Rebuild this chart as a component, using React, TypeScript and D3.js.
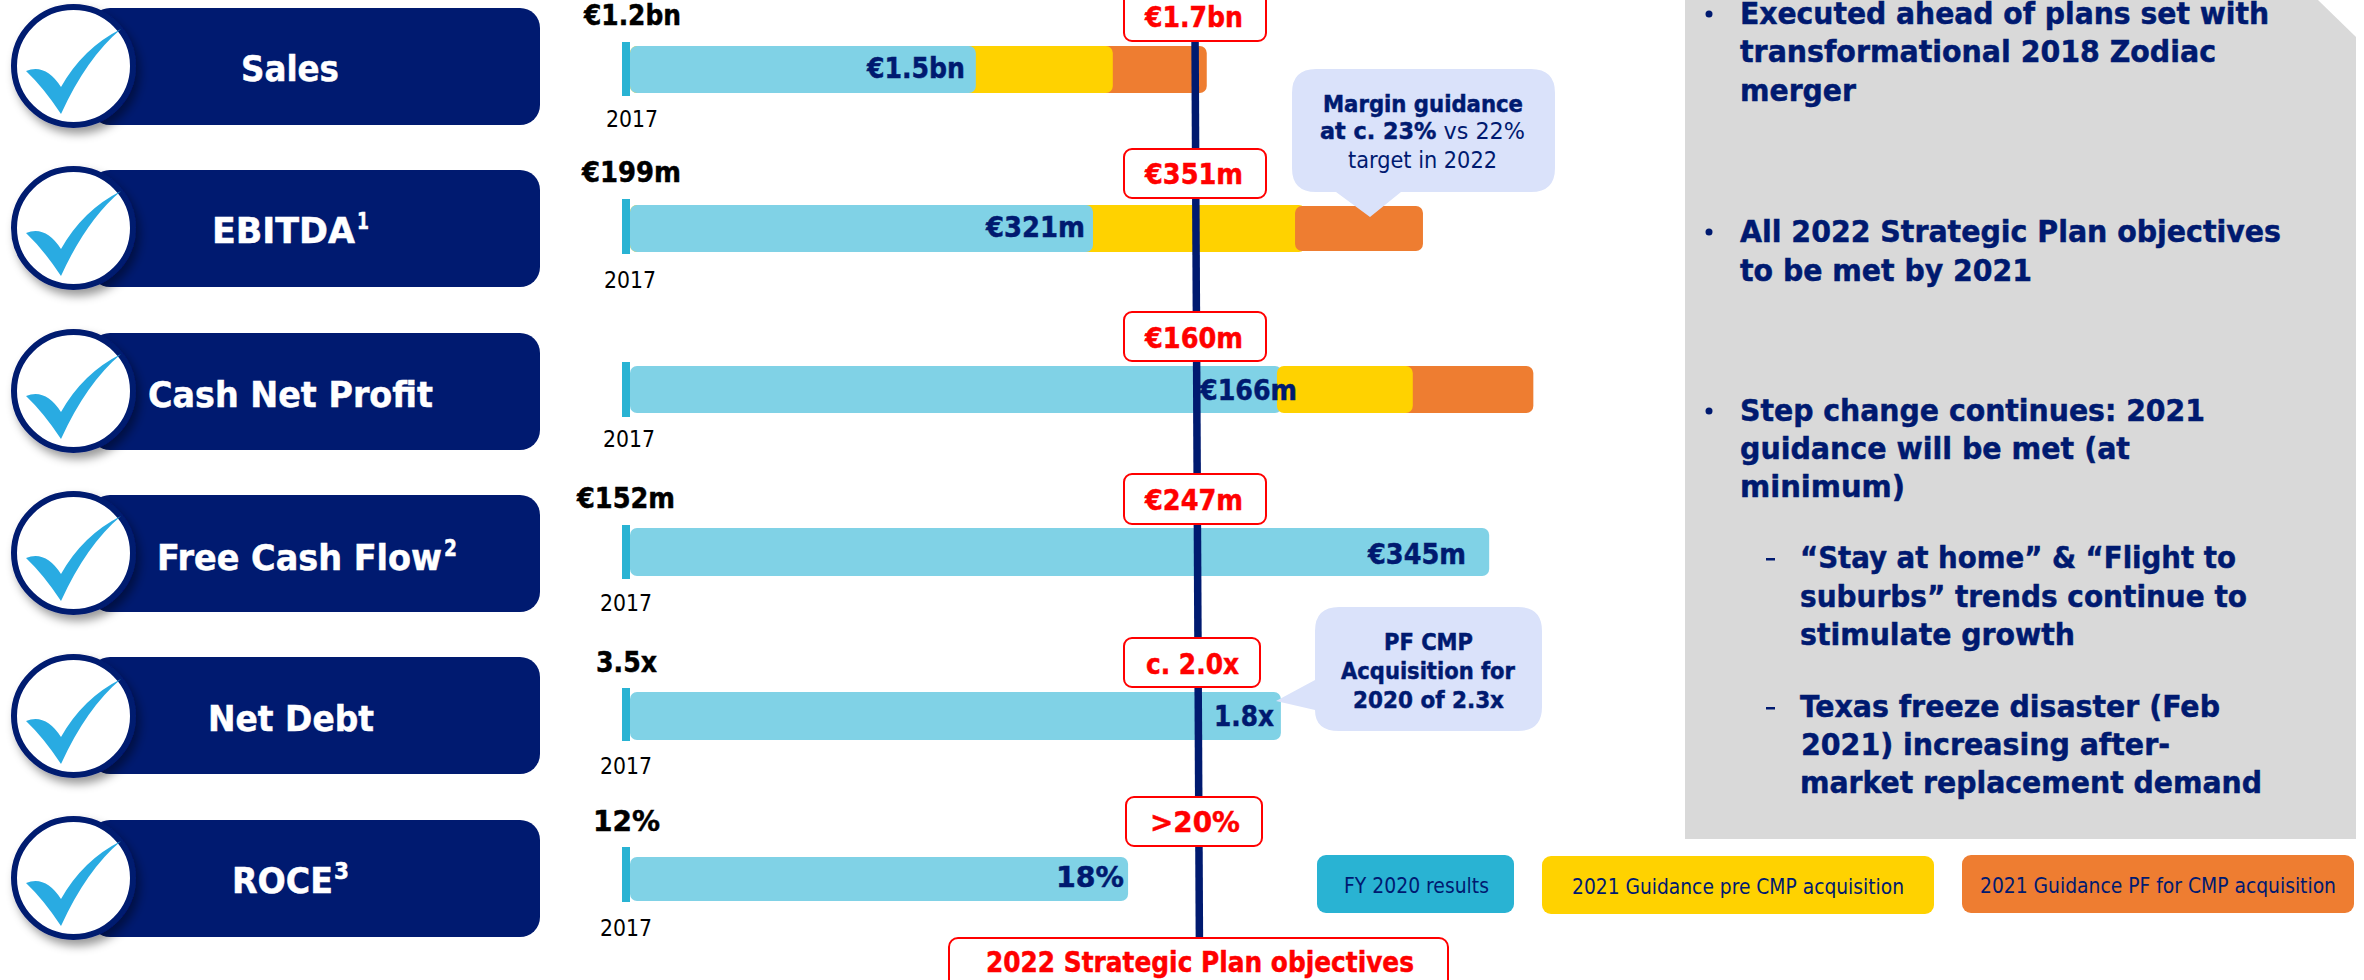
import React from "react";
import * as d3 from "d3";

// ---- Data ----
const categories = ["Sales", "EBITDA", "Cash Net Profit", "Free Cash Flow", "Net Debt", "ROCE"];
const footnotes = ["", "1", "", "2", "", "3"];
const start2017 = ["€1.2bn", "€199m", "", "€152m", "3.5x", "12%"];
const targets2022 = ["€1.7bn", "€351m", "€160m", "€247m", "c. 2.0x", ">20%"];
const results2020 = ["€1.5bn", "€321m", "€166m", "€345m", "1.8x", "18%"];
// Bar ends, as an index where the 2022 objective line = 100
const fy2020 = [61.1, 81.8, 115.2, 151.8, 115, 88];
const guidancePre = [85.3, 119.4, 138.3, null, null, null];
const guidancePF = [101.9, 140.1, 159.6, null, null, null];
const preOverlayStart = [null, null, 114.3, null, null, null];
const pfStart = [80, 117.5, 130, null, null, null];
const pfOnTop = [false, true, false, false, false, false];
const legendLabels = ["FY 2020 results", "2021 Guidance pre CMP acquisition", "2021 Guidance PF for CMP acquisition"];

// ---- Layout ----
const NAVY = "#001A70";
const BAR = "#80D2E6";
const TICK = "#29B3D3";
const YEL = "#FFD200";
const ORG = "#EE7D31";
const RED = "#FF0000";
const LAV = "#DAE2FA";
const FONT = "'DejaVu Sans Condensed','DejaVu Sans',Verdana,sans-serif";

const x = d3.scaleLinear().domain([0, 100]).range([630, 1196]);

const pillTop = [8, 170, 333, 495, 657, 820];
const pillH = 117;
const circleCy = [66, 228, 391, 553, 716, 878];
const pillText = [[241, 98, 81], [212, 143, 243], [148, 285, 407], [157, 285, 570], [208, 166, 731], [232, 101, 893]];
const supText = [null, [357, 12, 229], null, [444, 13, 556], null, [334, 15, 879]];
const barTop = [46, 205, 366, 528, 692, 857];
const barH = [47, 47, 47, 48, 48, 44];
const tickTop = [42, 199, 362, 525, 688, 847];
const tickH = [54, 55, 55, 54, 53, 55];
const yearPos = [[606, 127], [604, 288], [603, 447], [600, 611], [600, 774], [600, 936]];
const startPos = [[584, 97, 25], [582, 99, 182], [0, 0, 0], [577, 98, 508], [596, 61, 672], [593, 67, 831]];
const boxes = [
  [1124, 1266, -12, 41], [1124, 1266, 149, 198], [1124, 1266, 312, 361],
  [1124, 1266, 474, 524], [1124, 1260, 638, 687], [1126, 1262, 797, 846],
];
const boxText = [[1145, 98, 27], [1145, 98, 184], [1145, 98, 348], [1145, 98, 510], [1146, 93, 674], [1150, 90, 832]];
const resultPos = [[867, 98, 78], [986, 99, 237], [1200, 97, 400], [1368, 98, 564], [1214, 60, 726], [1056, 68, 887]];

function Txt(p: { x: number; y: number; w?: number; size: number; fill: string; bold?: boolean; children: any }) {
  const bold = p.bold !== false;
  return (
    <text
      x={p.x}
      y={p.y}
      fontFamily={FONT}
      fontSize={p.size}
      fontWeight={bold ? 700 : 400}
      fill={p.fill}
      stroke={bold ? p.fill : "none"}
      strokeWidth={bold ? 0.45 : 0}
      textLength={p.w}
      lengthAdjust={p.w ? "spacingAndGlyphs" : undefined}
    >
      {p.children}
    </text>
  );
}

const panelLines: [string, number, number, number][] = [
  ["Executed ahead of plans set with", 1740, 24, 529],
  ["transformational 2018 Zodiac", 1740, 62, 476],
  ["merger", 1740, 101, 116],
  ["All 2022 Strategic Plan objectives", 1740, 242, 541],
  ["to be met by 2021", 1740, 281, 292],
  ["Step change continues: 2021", 1740, 421, 465],
  ["guidance will be met (at", 1740, 459, 390],
  ["minimum)", 1740, 497, 165],
  ["“Stay at home” & “Flight to", 1800, 568, 436],
  ["suburbs” trends continue to", 1800, 607, 447],
  ["stimulate growth", 1800, 645, 275],
  ["Texas freeze disaster (Feb", 1800, 717, 420],
  ["2021) increasing after-", 1801, 755, 369],
  ["market replacement demand", 1800, 793, 462],
];
const bulletYs = [24, 242, 421];
const dashYs = [568, 717];

const legendBoxes = [
  [1317, 855, 197, 58, TICK, 1344, 145, 893],
  [1542, 856, 392, 58, YEL, 1572, 332, 894],
  [1962, 855, 392, 58, ORG, 1980, 356, 893],
];

const checkPath = "M-47.5,5 Q-28,-3 -12.5,21 Q9.5,-18 47.5,-37 Q13,-8 -12.5,48 Q-30,21.5 -47.5,5 Z";

export default function App() {
  const rows = categories.map((_, i) => i);
  return (
    <svg
      width={2364}
      height={980}
      viewBox="0 0 2364 980"
      style={{ position: "fixed", left: 0, top: 0, display: "block", background: "#fff" }}
    >
      <defs>
        <filter id="sh" x="-30%" y="-30%" width="170%" height="170%">
          <feDropShadow dx="4" dy="6" stdDeviation="5" floodColor="#000" floodOpacity="0.4" />
        </filter>
      </defs>

      {/* Grey panel */}
      <path d="M1685,0 H2318 L2356,37 V839 H1685 Z" fill="#D9D9D9" />
      {panelLines.map(([t, px, py, w]) => (
        <Txt key={t} x={px} y={py} w={w} size={29.5} fill={NAVY}>{t}</Txt>
      ))}
      {bulletYs.map((y) => (
        <circle key={y} cx={1709} cy={y - 10} r={3.5} fill={NAVY} />
      ))}
      {dashYs.map((y) => (
        <rect key={y} x={1766} y={y - 10} width={9} height={2.5} fill={NAVY} />
      ))}

      {/* Left pills */}
      {rows.map((i) => (
        <g key={categories[i]}>
          <rect x={90} y={pillTop[i]} width={450} height={pillH} rx={20} fill={NAVY} />
          <g transform={`translate(73.5,${circleCy[i]})`}>
            <ellipse rx={59.5} ry={59} fill="#fff" stroke={NAVY} strokeWidth={6} filter="url(#sh)" />
            <path d={checkPath} fill="#29ABE2" />
          </g>
          <Txt x={pillText[i][0]} y={pillText[i][2]} w={pillText[i][1]} size={36} fill="#fff">{categories[i]}</Txt>
          {supText[i] && (
            <Txt x={supText[i]![0]} y={supText[i]![2]} w={supText[i]![1]} size={23} fill="#fff">{footnotes[i]}</Txt>
          )}
        </g>
      ))}

      {/* Bars */}
      {rows.map((i) => {
        const y = barTop[i];
        const h = barH[i];
        const yEnd = guidancePre[i];
        const yOver = preOverlayStart[i];
        const oEnd = guidancePF[i];
        const oStart = pfStart[i];
        const orange = oEnd != null && oStart != null && (
          <rect
            x={x(oStart)}
            y={pfOnTop[i] ? y + 1 : y}
            width={x(oEnd) - x(oStart)}
            height={pfOnTop[i] ? h - 2 : h}
            rx={7}
            fill={ORG}
          />
        );
        return (
          <g key={"bar" + i}>
            {!pfOnTop[i] && orange}
            {yEnd != null && yOver == null && <rect x={x(0)} y={y} width={x(yEnd) - x(0)} height={h} rx={7} fill={YEL} />}
            {pfOnTop[i] && orange}
            <rect x={x(0)} y={y} width={x(fy2020[i]) - x(0)} height={h} rx={7} fill={BAR} />
            {yEnd != null && yOver != null && <rect x={x(yOver)} y={y} width={x(yEnd) - x(yOver)} height={h} rx={7} fill={YEL} />}
            <rect x={622} y={tickTop[i]} width={8} height={tickH[i]} fill={TICK} />
          </g>
        );
      })}

      {/* 2022 objective line */}
      <line x1={x(99.8)} y1={0} x2={x(100.6)} y2={940} stroke={NAVY} strokeWidth={7.5} />

      {/* Callouts */}
      <path
        d="M1316,69 H1531 Q1555,69 1555,93 V168 Q1555,192 1531,192 H1401 L1370,217 L1336,192 H1316 Q1292,192 1292,168 V93 Q1292,69 1316,69 Z"
        fill={LAV}
      />
      <Txt x={1323} y={112} w={200} size={23} fill={NAVY}>Margin guidance</Txt>
      <text x={1320} y={139} fontFamily={FONT} fontSize={23} fill={NAVY} textLength={205} lengthAdjust="spacingAndGlyphs">
        <tspan fontWeight={700} stroke={NAVY} strokeWidth={0.45}>at c. 23%</tspan>
        <tspan fontWeight={400}> vs 22%</tspan>
      </text>
      <Txt x={1348} y={168} w={149} size={23} fill={NAVY} bold={false}>target in 2022</Txt>

      <path
        d="M1339,607 H1518 Q1542,607 1542,631 V707 Q1542,731 1518,731 H1339 Q1315,731 1315,710 L1276,701 L1315,680 V631 Q1315,607 1339,607 Z"
        fill={LAV}
      />
      <Txt x={1384} y={650} w={89} size={23} fill={NAVY}>PF CMP</Txt>
      <Txt x={1341} y={679} w={174} size={23} fill={NAVY}>Acquisition for</Txt>
      <Txt x={1353} y={708} w={151} size={23} fill={NAVY}>2020 of 2.3x</Txt>

      {/* Text labels per row */}
      {rows.map((i) => (
        <g key={"lab" + i}>
          {start2017[i] && (
            <Txt x={startPos[i][0]} y={startPos[i][2]} w={startPos[i][1]} size={28.5} fill="#000">{start2017[i]}</Txt>
          )}
          <Txt x={yearPos[i][0]} y={yearPos[i][1]} w={52} size={23} fill="#000" bold={false}>2017</Txt>
          <Txt x={resultPos[i][0]} y={resultPos[i][2]} w={resultPos[i][1]} size={28.5} fill={NAVY}>{results2020[i]}</Txt>
          <rect
            x={boxes[i][0]}
            y={boxes[i][2]}
            width={boxes[i][1] - boxes[i][0]}
            height={boxes[i][3] - boxes[i][2]}
            rx={8}
            fill="#fff"
            stroke={RED}
            strokeWidth={2}
          />
          <Txt x={boxText[i][0]} y={boxText[i][2]} w={boxText[i][1]} size={28.5} fill={RED}>{targets2022[i]}</Txt>
        </g>
      ))}

      {/* Legend */}
      {legendLabels.map((t, i) => {
        const [lx, ly, lw, lh, c, tx, tw, ty] = legendBoxes[i] as any[];
        return (
          <g key={t}>
            <rect x={lx} y={ly} width={lw} height={lh} rx={9} fill={c} />
            <Txt x={tx} y={ty} w={tw} size={22} fill={NAVY} bold={false}>{t}</Txt>
          </g>
        );
      })}

      {/* Objectives label */}
      <rect x={949} y={938} width={499} height={60} rx={9} fill="#fff" stroke={RED} strokeWidth={2} />
      <Txt x={986} y={972} w={428} size={28.5} fill={RED}>2022 Strategic Plan objectives</Txt>
    </svg>
  );
}
